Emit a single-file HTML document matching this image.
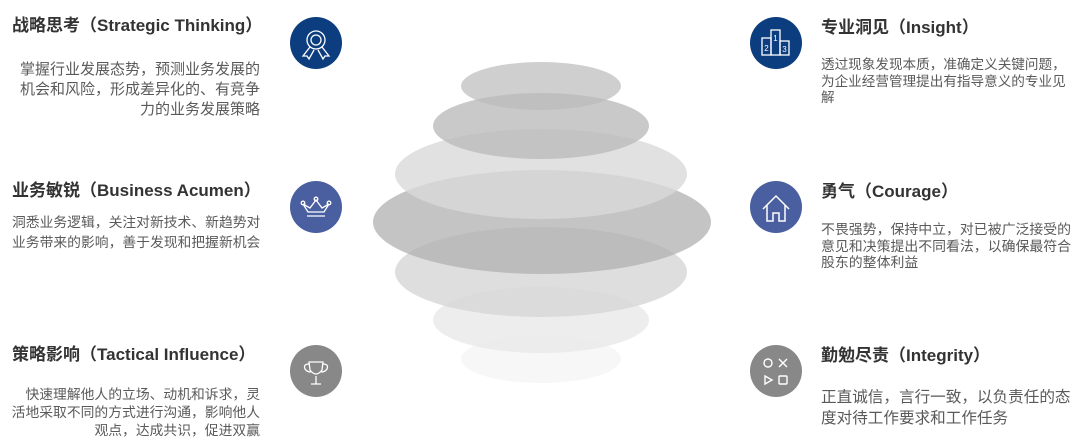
<!DOCTYPE html>
<html><head><meta charset="utf-8"><style>
body{margin:0;width:1080px;height:444px;background:#fff;position:relative;overflow:hidden;font-family:"Liberation Sans","Noto Sans CJK SC",sans-serif;}
.t{position:absolute;font-weight:bold;font-size:17px;color:#333;white-space:nowrap;line-height:20px}
.b{position:absolute;color:#5a5a5a;white-space:nowrap}
.r{text-align:right}
svg{position:absolute;left:0;top:0}
</style></head><body>
<svg width="1080" height="444">
<g>
<ellipse cx="541" cy="359" rx="80" ry="24" fill="#f7f7f7"/>
<ellipse cx="541" cy="320" rx="108" ry="33" fill="#eaeaea" fill-opacity="0.85"/>
<ellipse cx="541" cy="272" rx="146" ry="45" fill="#d6d6d6" fill-opacity="0.8"/>
<ellipse cx="542" cy="222" rx="169" ry="52" fill="#b0b0b0" fill-opacity="0.75"/>
<ellipse cx="541" cy="174" rx="146" ry="45" fill="#dadada" fill-opacity="0.8"/>
<ellipse cx="541" cy="126" rx="108" ry="33" fill="#bcbcbc" fill-opacity="0.8"/>
<ellipse cx="541" cy="86" rx="80" ry="24" fill="#bababa" fill-opacity="0.7"/>
</g>
<circle cx="316" cy="43" r="26" fill="#0b3d7f"/>
<g fill="none" stroke="#fff" stroke-width="1.3">
<circle cx="316" cy="40" r="9"/><circle cx="316" cy="40" r="5"/>
<path d="M310 47 L303 56 L307 56 L309 59 L314 50 M322 47 L329 56 L325 56 L323 59 L318 50"/>
</g>
<circle cx="316" cy="207" r="26" fill="#4a5fa0"/>
<g fill="none" stroke="#fff" stroke-width="1.3">
<path d="M303 204 L308 212 L324 212 L329 204 L322 208 L316 200 L310 208 Z"/>
<line x1="307" y1="216" x2="325" y2="216"/>
<circle cx="303" cy="203" r="1.8"/><circle cx="316" cy="199" r="1.8"/><circle cx="329" cy="203" r="1.8"/>
</g>
<circle cx="316" cy="371" r="26" fill="#888"/>
<g fill="none" stroke="#fff" stroke-width="1.3">
<path d="M309 362 L323 362 L322 370 Q316 378 310 370 Z"/>
<path d="M309 364 Q303 364 305 369 Q307 372 311 372 M323 364 Q329 364 327 369 Q325 372 321 372"/>
<path d="M316 376 L316 384 M311 384 L321 384"/>
</g>
<circle cx="776" cy="43" r="26" fill="#0b3d7f"/>
<g fill="none" stroke="#fff" stroke-width="1.3">
<rect x="762" y="38" width="9" height="17"/><rect x="771" y="30" width="9" height="25"/><rect x="780" y="41" width="9" height="14"/>
</g>
<text x="775.5" y="41" fill="#fff" font-size="8" text-anchor="middle" font-family="Liberation Sans">1</text>
<text x="766.5" y="51" fill="#fff" font-size="8" text-anchor="middle" font-family="Liberation Sans">2</text>
<text x="784.5" y="52" fill="#fff" font-size="8" text-anchor="middle" font-family="Liberation Sans">3</text>
<circle cx="776" cy="207" r="26" fill="#4a5fa0"/>
<g fill="none" stroke="#fff" stroke-width="1.5">
<path d="M763 209 L776 196 L789 209 M767 205 L767 221 L773 221 L773 213 L779 213 L779 221 L785 221 L785 205"/>
</g>
<circle cx="776" cy="371" r="26" fill="#888"/>
<g fill="none" stroke="#fff" stroke-width="1.4">
<circle cx="768" cy="363" r="4"/><path d="M779 359 L787 367 M787 359 L779 367"/>
<path d="M765 376 L772 380 L765 384 Z"/><rect x="779" y="376" width="8" height="8" rx="1"/>
</g>
</svg>

<div class="t" style="left:12px;top:16px">战略思考（Strategic Thinking）</div>
<div class="b r" style="right:820px;top:60px;font-size:15px;line-height:20px">掌握行业发展态势，预测业务发展的<br>机会和风险，形成差异化的、有竞争<br>力的业务发展策略</div>

<div class="t" style="left:12px;top:181px">业务敏锐（Business Acumen）</div>
<div class="b" style="left:12px;top:213px;font-size:13.8px;line-height:20px">洞悉业务逻辑，关注对新技术、新趋势对<br>业务带来的影响，善于发现和把握新机会</div>

<div class="t" style="left:12px;top:345px">策略影响（Tactical Influence）</div>
<div class="b r" style="right:820px;top:386px;font-size:13.8px;line-height:18px">快速理解他人的立场、动机和诉求，灵<br>活地采取不同的方式进行沟通，影响他人<br>观点，达成共识，促进双赢</div>

<div class="t" style="left:821px;top:18px">专业洞见（Insight）</div>
<div class="b" style="left:821px;top:57px;font-size:13.6px;line-height:16.5px">透过现象发现本质，准确定义关键问题，<br>为企业经营管理提出有指导意义的专业见<br>解</div>

<div class="t" style="left:821px;top:182px">勇气（Courage）</div>
<div class="b" style="left:821px;top:221px;font-size:13.9px;line-height:16.5px">不畏强势，保持中立，对已被广泛接受的<br>意见和决策提出不同看法，以确保最符合<br>股东的整体利益</div>

<div class="t" style="left:821px;top:346px">勤勉尽责（Integrity）</div>
<div class="b" style="left:821px;top:387px;font-size:15.6px;line-height:21px">正直诚信，言行一致，以负责任的态<br>度对待工作要求和工作任务</div>
</body></html>
